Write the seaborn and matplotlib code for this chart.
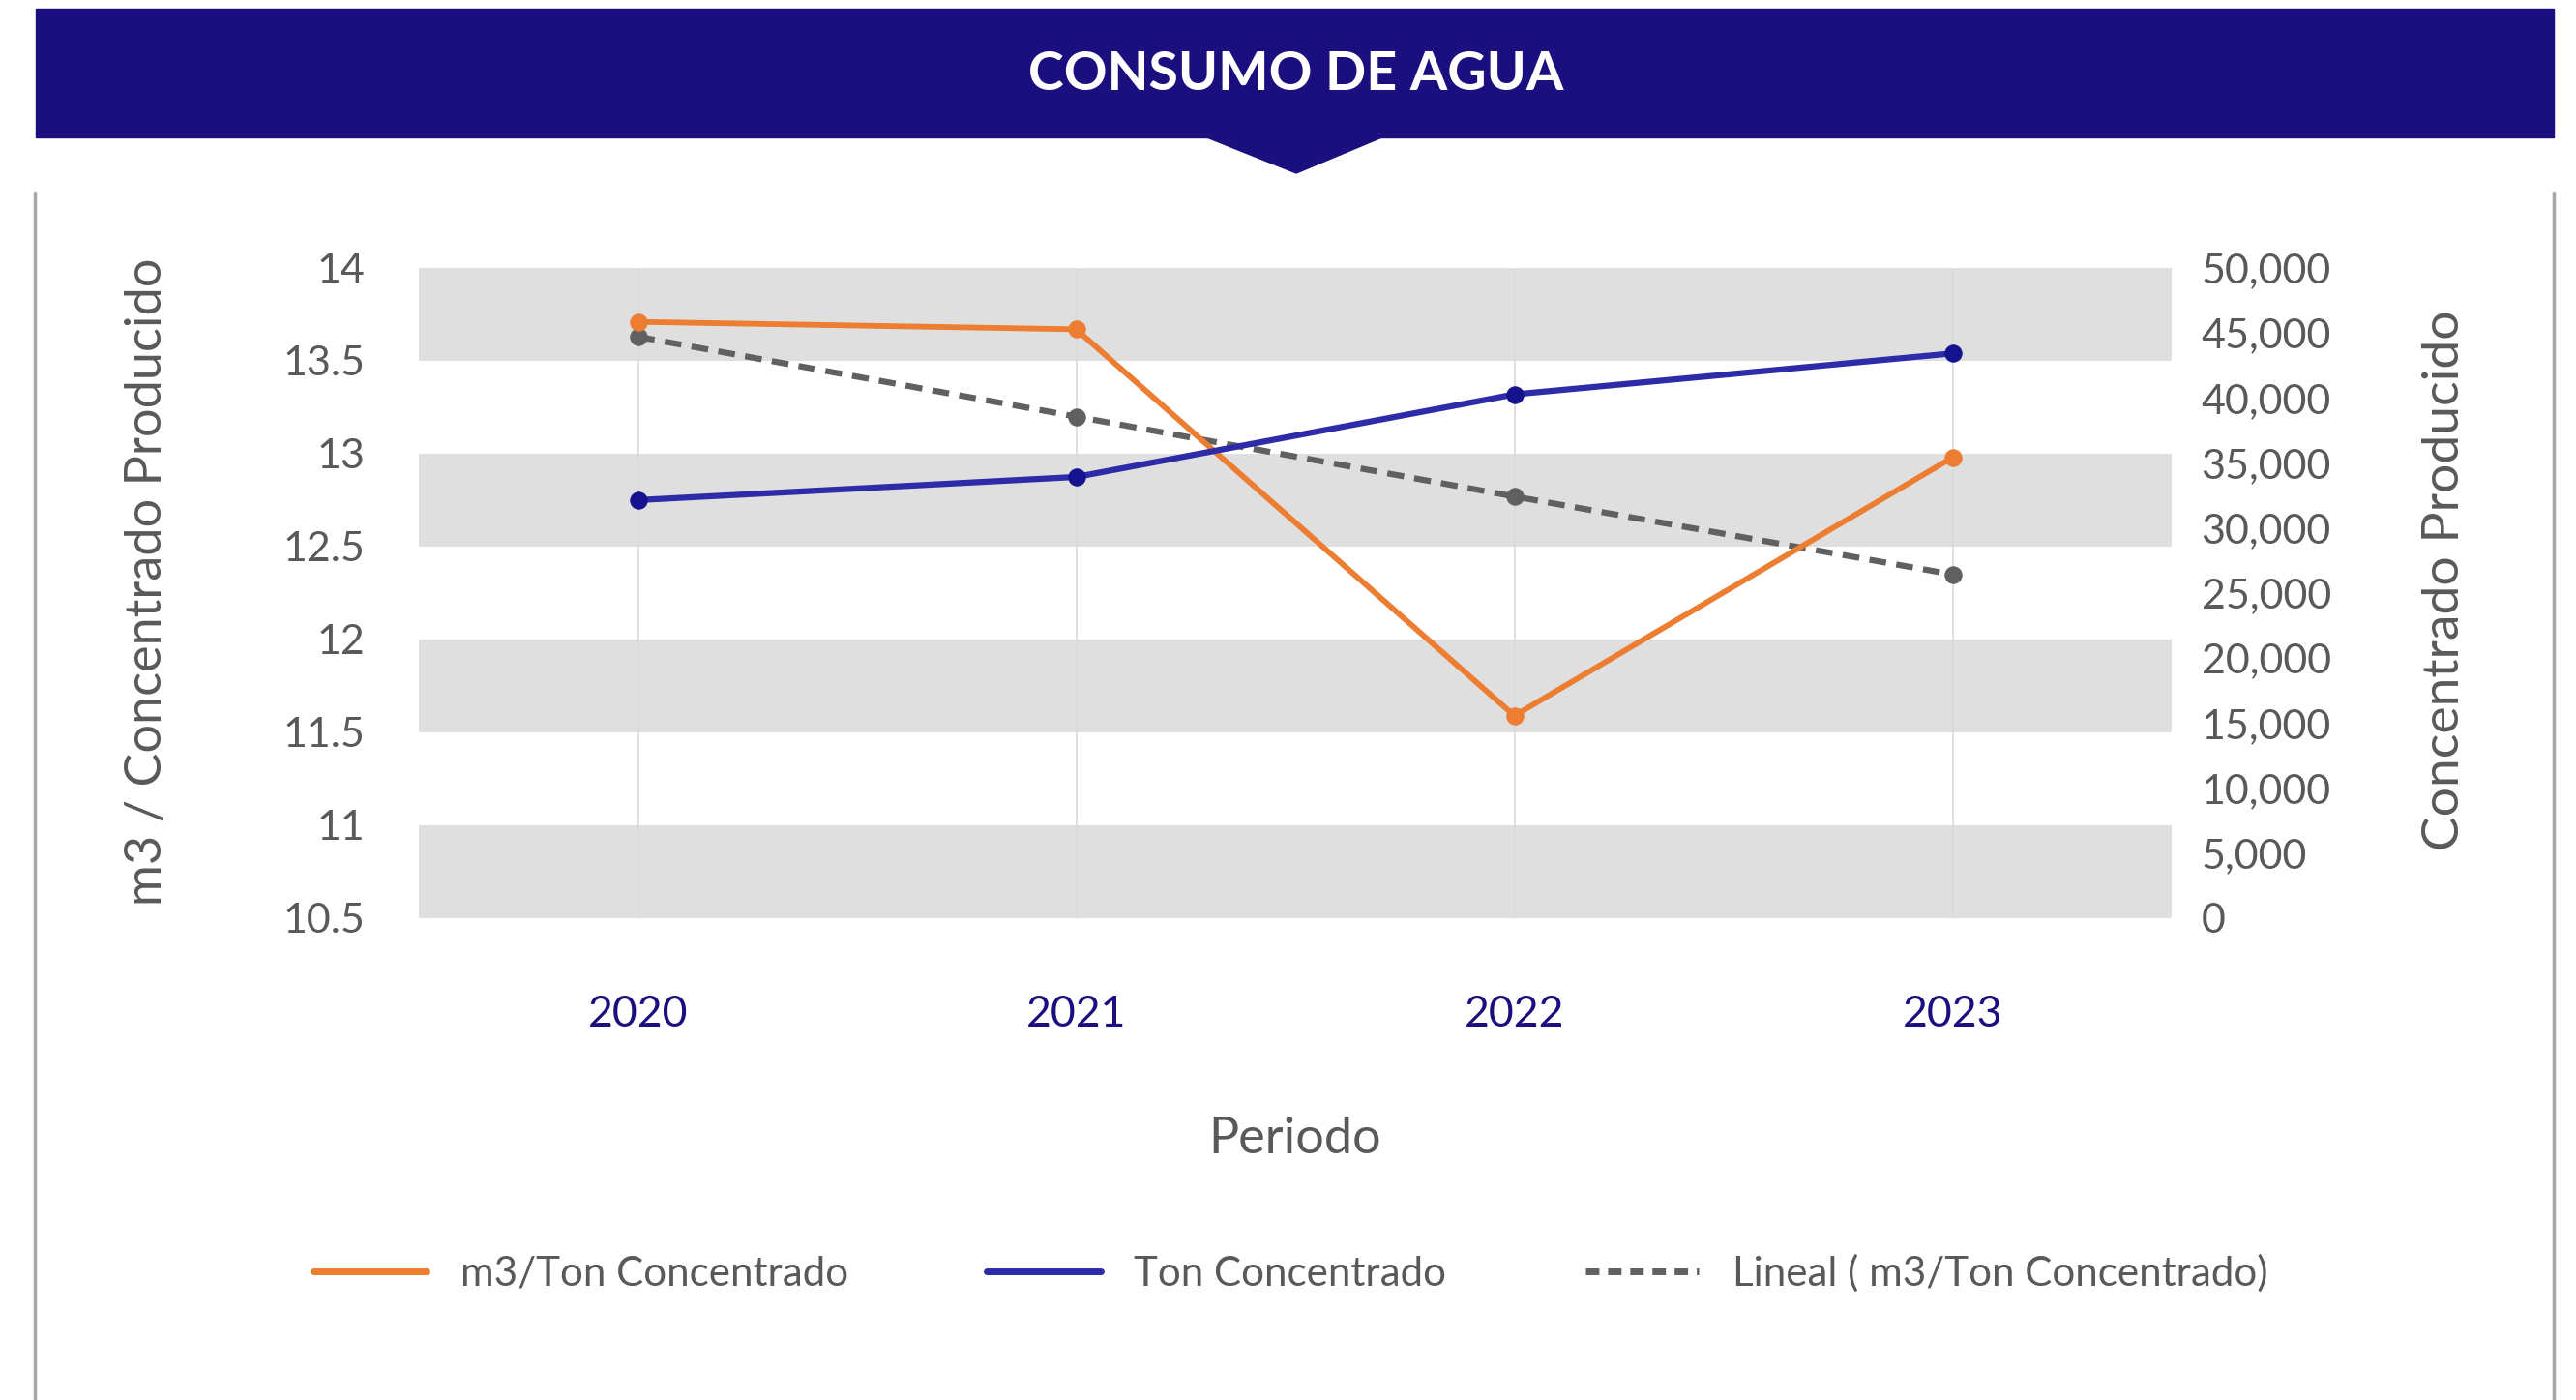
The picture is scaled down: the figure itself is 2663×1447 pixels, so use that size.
import pandas as pd
import matplotlib
matplotlib.use("Agg")
import matplotlib.pyplot as plt
import seaborn as sns
from matplotlib.lines import Line2D
from matplotlib.patches import Rectangle, Polygon
from matplotlib.ticker import FuncFormatter

# data
periodos = ["2020", "2021", "2022", "2023"]
m3_por_ton = [13.71, 13.67, 11.59, 12.98]
ton_concentrado = [32150, 33930, 40280, 43430]
lineal_m3 = [13.63, 13.20, 12.77, 12.35]

left_ticks = [10.5, 11, 11.5, 12, 12.5, 13, 13.5, 14]
right_ticks = [0, 5000, 10000, 15000, 20000, 25000, 30000, 35000, 40000, 45000, 50000]
bandas = [(10.5, 11), (11.5, 12), (12.5, 13), (13.5, 14)]

leyenda = ["m3/Ton Concentrado", "Ton Concentrado", "Lineal ( m3/Ton Concentrado)"]

NARANJA = "#ED7D31"
AZUL = "#2E2BA8"
AZUL_MARCA = "#15128E"
GRIS = "#606060"
TEXTO = "#595959"
BANNER = "#1B0E7E"

W, H = 2663, 1447


def fx(px):
    return px / W


def fy(py):
    return 1 - py / H


sns.set_theme(style="white")
plt.rcParams["font.family"] = ["Lato", "DejaVu Sans"]

fig = plt.figure(figsize=(W / 100, H / 100), dpi=100)
fig.patch.set_facecolor("white")

# banner with title
fig.patches.append(Rectangle((fx(37), fy(142)), fx(2640) - fx(37), fy(9) - fy(142),
                             transform=fig.transFigure, color=BANNER, zorder=0))
fig.patches.append(Polygon([(fx(1245), fy(141)), (fx(1431), fy(141)), (fx(1340), fy(179))],
                           closed=True, transform=fig.transFigure, color=BANNER, zorder=0))
fig.text(fx(1340), fy(77), "CONSUMO DE AGUA", color="white", fontsize=40,
         fontweight="bold", ha="center", va="center")

# frame lines left and right
for xp in (36, 2640):
    fig.lines.append(Line2D([fx(xp), fx(xp)], [fy(199), 0], transform=fig.transFigure,
                            color="#A6A6A6", lw=2.5))

ax = fig.add_axes([fx(433), fy(949), fx(2245) - fx(433), fy(277) - fy(949)])
ax2 = ax.twinx()

df = pd.DataFrame({"Periodo": periodos, "m3": m3_por_ton,
                   "ton": ton_concentrado, "lineal": lineal_m3})

for lo, hi in bandas:
    ax.axhspan(lo, hi, color="#DFDFDF", lw=0, zorder=0)

sns.lineplot(data=df, x="Periodo", y="m3", ax=ax, sort=False, color=NARANJA, lw=4.2,
             marker="o", ms=12.5, mec=NARANJA, zorder=4)
sns.lineplot(data=df, x="Periodo", y="lineal", ax=ax, sort=False, color=GRIS, lw=4.5,
             marker="o", ms=12.5, mec=GRIS, dashes=False, zorder=3)
ax.lines[-1].set_dashes((2.8, 1.7))
sns.lineplot(data=df, x="Periodo", y="ton", ax=ax2, sort=False, color=AZUL, lw=4.5,
             marker="o", ms=12.5, mfc=AZUL_MARCA, mec=AZUL_MARCA, zorder=4)

ax.set_xlim(-0.5, 3.5)
ax.set_ylim(10.5, 14)
ax2.set_ylim(0, 50000)
ax.set_yticks(left_ticks)
ax2.set_yticks(right_ticks)
ax.yaxis.set_major_formatter(FuncFormatter(lambda v, p: f"{v:g}"))
ax2.yaxis.set_major_formatter(FuncFormatter(lambda v, p: f"{v:,.0f}"))

ax.grid(axis="x", color="#D9D9D9", lw=1.2)
ax.grid(axis="y", visible=False)
ax2.grid(False)
ax.set_axisbelow(True)
for a in (ax, ax2):
    for s in a.spines.values():
        s.set_visible(False)
ax.patch.set_visible(False)

ax.tick_params(axis="y", length=0, pad=40, labelsize=31, labelcolor=TEXTO)
ax.tick_params(axis="x", length=0, pad=57, labelsize=32, labelcolor=BANNER)
ax2.tick_params(axis="y", length=0, pad=22, labelsize=31, labelcolor=TEXTO)

ax.set_xlabel("Periodo", fontsize=37.5, color=TEXTO)
ax.xaxis.set_label_coords(0.5, -(1177 - 949) / 672)
ax.xaxis.label.set_va("center")
ax.set_ylabel("m3 / Concentrado Producido", fontsize=37.6, color=TEXTO)
ax.yaxis.set_label_coords((153 - 433) / 1812, (949 - 601) / 672)
ax.yaxis.label.set_va("center")
ax2.set_ylabel("Concentrado Producido", fontsize=38.5, color=TEXTO)
ax2.yaxis.set_label_coords((2528 - 433) / 1812, (949 - 600) / 672)
ax2.yaxis.label.set_va("center")

handles = [
    Line2D([], [], color=NARANJA, lw=5),
    Line2D([], [], color=AZUL, lw=5),
    Line2D([], [], color=GRIS, lw=5, dashes=(2.0, 1.3)),
]
fig.legend(handles, leyenda, loc="center", bbox_to_anchor=(fx(1334), fy(1316)), ncol=3,
           frameon=False, fontsize=30.3, labelcolor=TEXTO, handlelength=2.8,
           handletextpad=0.82, columnspacing=3.4)

fig.savefig("out.png", dpi=100)
